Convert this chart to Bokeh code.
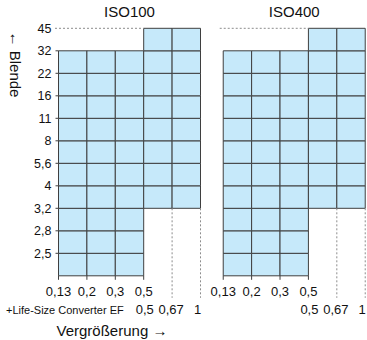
import math
from bokeh.plotting import figure
from bokeh.models import Range1d
from bokeh.core.properties import value
from bokeh.embed import file_html
from bokeh.resources import INLINE

# ---------------- data ----------------
panels = ["ISO100", "ISO400"]
apertures = ["2,5", "2,8", "3,2", "4", "5,6", "8", "11", "16", "22", "32", "45"]
mag_labels = ["0,13", "0,2", "0,3", "0,5"]
lsc_prefix = "+Life-Size Converter EF"
lsc_labels = ["0,5", "0,67", "1"]
# per magnification column: lowest / highest aperture level (0 = bottom edge, k = apertures[k-1])
iso100_low = [0, 0, 0, 3, 3]
iso100_high = [10, 10, 10, 11, 11]
iso400_low = [0, 0, 0, 3, 3]
iso400_high = [10, 10, 10, 11, 11]
x_title = "Vergrößerung →"
y_title = "← Blende"

# ---------------- layout ----------------
W, H = 367, 340
COL = 28.4          # px per magnification column
ROW = 22.5          # px per aperture step
PANEL_OFF = 5.8     # second panel offset in columns
x0 = -58 / COL
x1 = x0 + W / COL
y0 = -64.7 / ROW
y1 = y0 + H / ROW

FILL = "#c6e9fa"
LINE = "#3f3f3f"
DOT = "#8c8c8c"
FONT = value("Liberation Sans")

p = figure(width=W, height=H, x_range=Range1d(x0, x1), y_range=Range1d(y0, y1),
           x_axis_type=None, y_axis_type=None, toolbar_location=None,
           output_backend="svg", min_border=0)
p.outline_line_color = None
p.grid.visible = False
p.background_fill_color = "white"
p.border_fill_color = "white"

lows = [iso100_low, iso400_low]
highs = [iso100_high, iso400_high]
offs = [0.0, PANEL_OFF]

# cells
cl, cr, cb, ct = [], [], [], []
for off, lo, hi in zip(offs, lows, highs):
    for c in range(len(lo)):
        for lvl in range(lo[c], hi[c]):
            cl.append(off + c); cr.append(off + c + 1)
            cb.append(lvl); ct.append(lvl + 1)
p.quad(left=cl, right=cr, bottom=cb, top=ct, fill_color=FILL,
       line_color=LINE, line_width=1)

# y tick stubs (left panel)
levels = list(range(1, len(apertures)))
p.segment(x0=[-3 / COL] * len(levels), x1=[0] * len(levels), y0=levels, y1=levels,
          line_color=LINE, line_width=1)

# x tick stubs
sx = [off + c for off in offs for c in range(len(mag_labels))]
p.segment(x0=sx, x1=sx, y0=[0] * len(sx), y1=[-4 / ROW] * len(sx),
          line_color=LINE, line_width=1)

# dotted guides
top_lvl = len(apertures)
hx0 = [off - 3.5 / COL for off in offs]
hx1 = [off + len(mag_labels) - 1 for off in offs]
p.segment(x0=hx0, x1=hx1, y0=[top_lvl] * 2, y1=[top_lvl] * 2,
          line_color=DOT, line_width=1, line_dash="2 2")
vx, vy0 = [], []
for off, lo in zip(offs, lows):
    for c in range(len(mag_labels), len(lo) + 1):
        vx.append(off + c); vy0.append(lo[c - 1])
p.segment(x0=vx, x1=vx, y0=vy0, y1=[-22 / ROW] * len(vx),
          line_color=DOT, line_width=1, line_dash="2 2")

# y tick labels
p.text(x=[0] * len(apertures), y=list(range(1, len(apertures) + 1)), text=apertures,
       x_offset=-7, text_align="right", text_baseline="middle",
       text_font=FONT, text_font_size="12.5px", text_color="#111111")

# x tick labels row 1
tx, tt = [], []
for off in offs:
    for c, lab in enumerate(mag_labels):
        tx.append(off + c); tt.append(lab)
p.text(x=tx, y=[0] * len(tx), text=tt, y_offset=16, text_align="center",
       text_baseline="middle", text_font=FONT, text_font_size="13px", text_color="#111111")

# x tick labels row 2
lx, lt, lo_off = [], [], []
nudge = [1, -1, -3]
for off in offs:
    for i, lab in enumerate(lsc_labels):
        lx.append(off + len(mag_labels) - 1 + i); lt.append(lab); lo_off.append(nudge[i])
p.text(x=lx, y=[0] * len(lx), text=lt, x_offset=lo_off, y_offset=34, text_align="center",
       text_baseline="middle", text_font=FONT, text_font_size="13px", text_color="#111111")
p.text(x=[len(mag_labels) - 1], y=[0], text=[lsc_prefix], x_offset=-20, y_offset=34,
       text_align="right", text_baseline="middle", text_font=FONT,
       text_font_size="11px", text_color="#111111")

# panel titles
p.text(x=[off + 2.5 for off in offs], y=[top_lvl] * 2, text=panels, y_offset=-17,
       text_align="center", text_baseline="middle", text_font=FONT,
       text_font_size="15px", text_color="#111111")

# axis titles
p.text(x=[0], y=[0], text=[x_title], x_offset=-2, y_offset=55, text_align="left",
       text_baseline="middle", text_font=FONT, text_font_size="15px", text_color="#111111")
p.text(x=[x0 + 15 / COL], y=[y1 - 64 / ROW], text=[y_title], angle=-math.pi / 2,
       text_align="center", text_baseline="middle", text_font=FONT,
       text_font_size="15px", text_color="#111111")

open("out.html", "w").write(file_html(p, INLINE))
